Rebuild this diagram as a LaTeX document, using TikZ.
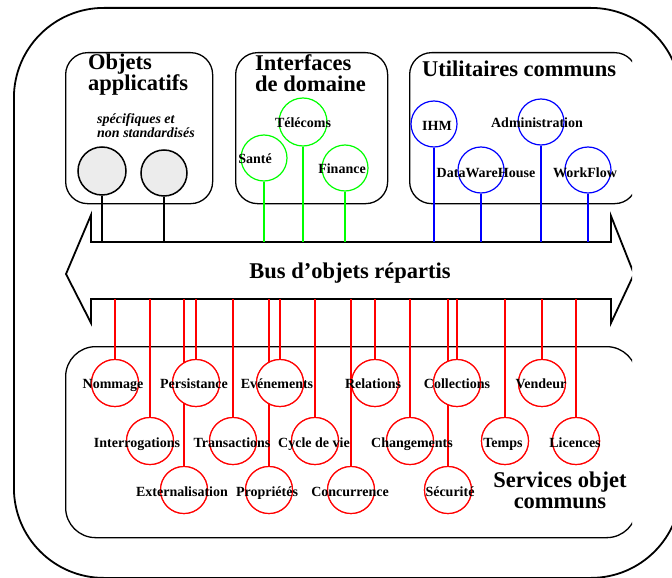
\documentclass[tikz,border=0pt]{standalone}
\usepackage{fontspec}
\setmainfont{Liberation Serif}
\begin{document}
\begin{tikzpicture}[x=1pt,y=-1pt,
  big/.style={font=\fontsize{22.5}{21}\selectfont\bfseries, inner sep=0},
  lbl/.style={font=\fontsize{14}{14}\selectfont\bfseries, inner sep=0, anchor=base},
  frame/.style={draw, line width=1.3pt, rounded corners=22pt, inner sep=0, anchor=north west},
  circ/.style={circle, draw, line width=1.2pt, fill=white, minimum size=47pt, inner sep=0},
  bcirc/.style={circ, line width=1.5pt, fill=gray!15},
  gcirc/.style={circ, draw=green},
  ucirc/.style={circ, draw=blue},
  rcirc/.style={circ, draw=red},
  klink/.style={line width=1.4pt},
  glink/.style={line width=1.5pt, green},
  ulink/.style={line width=1.5pt, blue},
  rlink/.style={line width=1.5pt, red}]
\useasboundingbox (0,0) rectangle (672,578);
\fill[white] (0,0) rectangle (672,578);
% outer frame
\begin{scope}
\clip (0,0) rectangle (672,578);
\node[draw, line width=1.8pt, rounded corners=90pt, inner sep=0, anchor=north west,
      minimum width=667pt, minimum height=570pt] (outer) at (13,7) {};
\end{scope}
\begin{scope}
\clip (0,0) rectangle (632,578);
% top boxes
\node[frame, minimum width=147pt, minimum height=151pt] (b1) at (65,52) {};
\node[frame, minimum width=152pt, minimum height=151pt] (b2) at (235,52) {};
\node[frame, minimum width=227pt, minimum height=151pt] (b3) at (409,52) {};
% bottom box
\node[frame, rounded corners=30pt, minimum width=571pt, minimum height=191pt] (b4) at (65,346) {};
% bus
\draw[line width=1.8pt, fill=white, line join=miter]
  (66,274) -- (91,215) -- (91,242) -- (611,242) -- (611,216) -- (634,274)
  -- (611,323) -- (611,299) -- (91,299) -- (91,323) -- cycle;
\coordinate (bustop) at (91,242);
\coordinate (busbot) at (91,299);
\node[big, anchor=base] (bus) at (350,278) {Bus d'objets répartis};
% top circles
\node[bcirc, minimum size=48pt] (o1) at (102,171) {};
\node[bcirc, minimum size=46pt] (o2) at (164,173) {};
\node[gcirc, minimum size=46pt] (sante) at (264,158) {};
\node[gcirc, minimum size=48pt] (tele) at (303,122) {};
\node[gcirc, minimum size=46pt] (fin) at (345,168) {};
\node[ucirc, minimum size=46pt] (ihm) at (434,124) {};
\node[ucirc, minimum size=46pt] (dwh) at (481,170) {};
\node[ucirc, minimum size=46pt] (adm) at (541,122) {};
\node[ucirc, minimum size=46pt] (wf) at (588,170) {};
\foreach \n in {o1,o2} \draw[klink] (\n.south) -- (\n.south |- bustop);
\foreach \n in {sante,tele,fin} \draw[glink] (\n.south) -- (\n.south |- bustop);
\foreach \n in {ihm,dwh,adm,wf} \draw[ulink] (\n.south) -- (\n.south |- bustop);
% titles
\node[big, anchor=north west, align=left] (t1) at (88,54) {Objets\\applicatifs};
\node[font=\fontsize{14}{14}\selectfont\bfseries\itshape, inner sep=0, anchor=north west, align=left] (t1b) at (97,113) {spécifiques et\\non standardisés};
\node[big, anchor=north west, align=left] (t2) at (255,54) {Interfaces\\de domaine};
\node[big, anchor=base west] (t3) at (422,77) {Utilitaires communs};
\node[lbl] at (255,163) {Santé};
\node[lbl] at (303,127) {Télécoms};
\node[lbl] at (342,173) {Finance};
\node[lbl] at (437,130) {IHM};
\node[lbl] at (486,177) {DataWareHouse};
\node[lbl] at (537,127) {Administration};
\node[lbl] at (585,177) {WorkFlow};
% bottom: connectors
\coordinate (nomC) at (115,383); \coordinate (perC) at (196,383);
\coordinate (eveC) at (280,383); \coordinate (relC) at (375,383);
\coordinate (colC) at (457,383); \coordinate (venC) at (542,383);
\coordinate (intC) at (150,441); \coordinate (traC) at (233,441);
\coordinate (cycC) at (315,441); \coordinate (chaC) at (410,441);
\coordinate (temC) at (505,441); \coordinate (licC) at (576,441);
\coordinate (extC) at (184,490); \coordinate (proC) at (269,490);
\coordinate (conC) at (351,490); \coordinate (secC) at (448,490);
\foreach \n in {nom,per,eve,rel,col,ven,int,tra,cyc,cha,tem,lic,ext,pro,con,sec}
  \node[rcirc] (\n) at (\n C) {};
\foreach \n in {nom,per,eve,rel,col,ven,int,tra,cyc,cha,tem,lic,ext,pro,con,sec}
  \draw[rlink] (\n.north |- busbot) -- (\n.north);
% redraw circles above the lines
\foreach \n in {nom,per,eve,rel,col,ven,int,tra,cyc,cha,tem,lic,ext,pro,con,sec}
  \node[rcirc] at (\n C) {};
\node[lbl] at (113,388) {Nommage};
\node[lbl] at (194,388) {Persistance};
\node[lbl] at (277,388) {Evénements};
\node[lbl] at (373,388) {Relations};
\node[lbl] at (457,388) {Collections};
\node[lbl] at (541,388) {Vendeur};
\node[lbl] at (137,447) {Interrogations};
\node[lbl] at (232,447) {Transactions};
\node[lbl] at (314,447) {Cycle de vie};
\node[lbl] at (412,447) {Changements};
\node[lbl] at (503,447) {Temps};
\node[lbl] at (575,447) {Licences};
\node[lbl] at (182,496) {Externalisation};
\node[lbl] at (267,496) {Propriétés};
\node[lbl] at (350,496) {Concurrence};
\node[lbl] at (450,496) {Sécurité};
\node[big, anchor=north, align=center] (t4) at (560,472) {Services objet\\communs};
\end{scope}
\end{tikzpicture}
\end{document}
